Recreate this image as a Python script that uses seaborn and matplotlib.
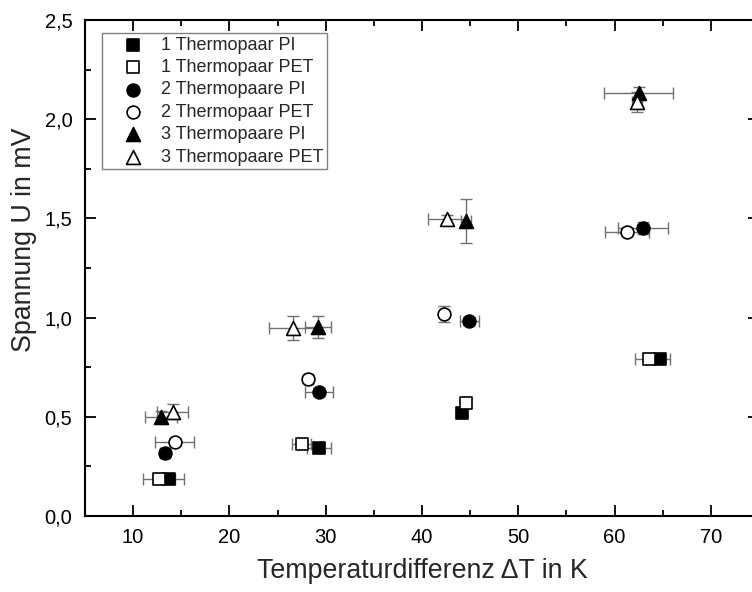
import numpy as np
import pandas as pd
import seaborn as sns
import matplotlib.pyplot as plt
from matplotlib.ticker import MultipleLocator, FuncFormatter

labels = ['1 Thermopaar PI', '1 Thermopaar PET', '2 Thermopaare PI',
          '2 Thermopaar PET', '3 Thermopaare PI', '3 Thermopaare PET']

x_1pi = [13.7, 29.3, 44.2, 64.7]
y_1pi = [0.186, 0.341, 0.518, 0.79]
xerr_1pi = [1.6, 1.2, 0.3, 1.1]
yerr_1pi = [0.02, 0.02, 0.02, 0.02]

x_1pet = [12.7, 27.5, 44.6, 63.6]
y_1pet = [0.186, 0.363, 0.568, 0.79]
xerr_1pet = [1.7, 1.0, 0.3, 1.5]
yerr_1pet = [0.02, 0.02, 0.02, 0.02]

x_2pi = [13.3, 29.3, 44.9, 63.0]
y_2pi = [0.316, 0.627, 0.983, 1.453]
xerr_2pi = [0.5, 1.5, 1.0, 2.6]
yerr_2pi = [0.02, 0.02, 0.02, 0.03]

x_2pet = [14.3, 28.2, 42.3, 61.3]
y_2pet = [0.371, 0.689, 1.02, 1.433]
xerr_2pet = [2.0, 0.5, 0.3, 2.3]
yerr_2pet = [0.02, 0.02, 0.04, 0.02]

x_3pi = [12.9, 29.2, 44.6, 62.5]
y_3pi = [0.497, 0.954, 1.488, 2.13]
xerr_3pi = [1.65, 1.3, 0.5, 3.55]
yerr_3pi = [0.03, 0.055, 0.11, 0.03]

x_3pet = [14.1, 26.6, 42.6, 62.3]
y_3pet = [0.526, 0.946, 1.495, 2.088]
xerr_3pet = [1.6, 2.5, 2.0, 0.5]
yerr_3pet = [0.037, 0.06, 0.02, 0.05]

markers = ['s', 's', 'o', 'o', '^', '^']
faces = ['black', 'white', 'black', 'white', 'black', 'white']
sizes = [70, 70, 85, 85, 100, 100]

series = [(x_1pi, y_1pi, xerr_1pi, yerr_1pi), (x_1pet, y_1pet, xerr_1pet, yerr_1pet),
          (x_2pi, y_2pi, xerr_2pi, yerr_2pi), (x_2pet, y_2pet, xerr_2pet, yerr_2pet),
          (x_3pi, y_3pi, xerr_3pi, yerr_3pi), (x_3pet, y_3pet, xerr_3pet, yerr_3pet)]

sns.set_theme(style='ticks')
plt.rcParams['font.family'] = ['Liberation Sans', 'DejaVu Sans']

fig = plt.figure(figsize=(7.52, 5.92), dpi=100)
ax = fig.add_axes([0.113, 0.1284, 0.8963, 0.8378])

for i, (xs, ys, xe, ye) in enumerate(series):
    ax.errorbar(xs, ys, xerr=xe, yerr=ye, fmt='none', ecolor='#707070',
                elinewidth=1, capsize=4, capthick=1, zorder=2)
    df = pd.DataFrame({'x': xs, 'y': ys})
    sns.scatterplot(data=df, x='x', y='y', marker=markers[i], s=sizes[i],
                    color=faces[i], edgecolor='black', linewidth=1.2,
                    label=labels[i], ax=ax, zorder=3)

ax.set_xlim(5, 75)
ax.set_ylim(0, 2.5)
ax.xaxis.set_major_locator(MultipleLocator(10))
ax.xaxis.set_minor_locator(MultipleLocator(5))
ax.yaxis.set_major_locator(MultipleLocator(0.5))
ax.yaxis.set_minor_locator(MultipleLocator(0.25))
ax.yaxis.set_major_formatter(FuncFormatter(lambda v, p: f'{v:.1f}'.replace('.', ',')))
ax.tick_params(which='both', direction='in', top=True, right=True, width=1.3,
               labelsize=14.5, colors='black')
ax.tick_params(which='major', length=8, pad=9)
ax.tick_params(which='minor', length=4)
for sp in ax.spines.values():
    sp.set_linewidth(1.5)
    sp.set_color('black')

ax.set_xlabel('Temperaturdifferenz ΔT in K', fontsize=19.3)
ax.set_ylabel('Spannung U in mV', fontsize=19.3)
ax.xaxis.set_label_coords(0.5, -0.085)
ax.yaxis.set_label_coords(-0.071, 0.556)

leg = ax.legend(loc='upper left', bbox_to_anchor=(0.0248, 0.974), fontsize=13,
                borderaxespad=0, frameon=True, fancybox=False, edgecolor='#808080',
                framealpha=1, labelspacing=0.3, handlelength=3.1,
                handletextpad=0.0, borderpad=0.2)
leg.get_frame().set_linewidth(1)

plt.savefig('out.png', dpi=100)
